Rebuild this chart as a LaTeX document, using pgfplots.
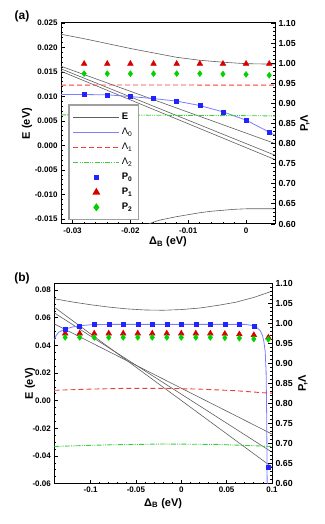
\documentclass[border=0pt]{standalone}
\usepackage{fontspec}
\setmainfont{Liberation Sans}
\usepackage{pgfplots}
\pgfplotsset{compat=1.18}
\definecolor{Egray}{RGB}{95,95,95}
\definecolor{Lblue}{RGB}{125,125,255}
\definecolor{Lred}{RGB}{240,60,60}
\definecolor{Lgreen}{RGB}{60,205,60}
\definecolor{Pblue}{RGB}{35,35,255}
\definecolor{Pred}{RGB}{215,0,0}
\definecolor{Pgreen}{RGB}{0,210,0}
\pgfplotsset{
  /pgf/number format/assume math mode=true,
  every axis/.append style={
    scale only axis, scaled ticks=false,
    tick align=inside, major tick length=4pt, minor tick length=2pt,
    tick style={black, line width=0.8pt},
    axis line style={black, line width=1pt},
    tick label style={font=\bfseries\fontsize{8}{9}\selectfont},
    label style={font=\bfseries\fontsize{11}{12}\selectfont},
  },
  Eline/.style={draw=Egray, line width=0.6pt},
  L0/.style={draw=Lblue, line width=0.8pt},
  L1/.style={draw=Lred, line width=0.9pt, dash pattern=on 5pt off 3pt},
  L2/.style={draw=Lgreen, line width=0.9pt, dash pattern=on 5pt off 1.2pt on 1pt off 1.2pt on 1pt off 1.2pt},
  P0/.style={only marks, mark=square*, mark size=2pt, mark options={draw=Pblue, fill=Pblue, solid}},
  P1/.style={only marks, mark=triangle*, mark size=3.3pt, mark options={draw=Pred, fill=Pred, solid}},
  P2/.style={only marks, mark=diamond*, mark size=3pt, mark options={draw=Pgreen, fill=Pgreen, solid}},
  legend image code/.code={\draw[mark repeat=2,mark phase=2,#1] plot coordinates {(0pt,0pt) (23pt,0pt) (46pt,0pt)};},
}
\begin{document}
\begin{tikzpicture}
\path[use as bounding box] (0,0) rectangle (324pt,524pt);
\node[font=\bfseries\fontsize{12}{14}\selectfont] at (22pt,508pt) {(a)};
\node[font=\bfseries\fontsize{12}{14}\selectfont] at (22pt,246pt) {(b)};

% ---------------- panel (a) left axis ----------------
\begin{axis}[at={(61pt,300pt)}, anchor=south west, width=214pt, height=201pt,
  xmin=-0.032, xmax=0.005, ymin=-0.016, ymax=0.025,
  xtick={-0.03,-0.02,-0.01,0}, ytick={-0.015,-0.010,-0.005,0,0.005,0.010,0.015,0.020,0.025},
  minor x tick num=4, minor y tick num=4, xtick pos=bottom, ytick pos=left,
  xticklabel style={/pgf/number format/.cd, fixed, precision=2},
  yticklabel style={/pgf/number format/.cd, fixed, fixed zerofill, precision=3},
  xlabel={Δ\textsubscript{B} (eV)}, ylabel={E (eV)},
  xlabel style={at={(axis description cs:0.5,-0.088)}, anchor=center},
  ylabel style={at={(axis description cs:-0.159,0.5)}, anchor=center},
]
\addplot[Eline] coordinates {(-0.032,0.0227) (-0.028,0.0218) (-0.024,0.0208) (-0.020,0.0198) (-0.016,0.0189) (-0.012,0.0180) (-0.008,0.0174) (-0.004,0.0170) (0,0.0167) (0.005,0.0166)};
\addplot[Eline] coordinates {(-0.032,0.01618) (0.005,0.00041)};
\addplot[Eline] coordinates {(-0.032,0.01565) (0.005,-0.00198)};
\addplot[Eline] coordinates {(-0.032,0.01516) (0.005,-0.00286)};
\addplot[Eline] coordinates {(-0.0172,-0.0162) (-0.0160,-0.0156) (-0.0149,-0.0152) (-0.012,-0.0145) (-0.010,-0.0141) (-0.008,-0.0137) (-0.006,-0.0134) (-0.004,-0.0132) (-0.002,-0.0130) (0,-0.0129) (0.005,-0.0129)};
\end{axis}

% ---------------- panel (a) right axis ----------------
\begin{axis}[at={(61pt,300pt)}, anchor=south west, width=214pt, height=201pt,
  xmin=-0.032, xmax=0.005, ymin=0.6, ymax=1.1,
  axis y line*=right, axis x line=none, tick align=inside,
  ytick={0.6,0.65,0.7,0.75,0.8,0.85,0.9,0.95,1.0,1.05,1.1}, minor y tick num=4,
  yticklabel style={font=\bfseries\fontsize{8.8}{10}\selectfont, /pgf/number format/.cd, fixed, fixed zerofill, precision=2},
  ylabel={P,Λ},
  every axis y label/.style={at={(axis description cs:1.140,0.5)}, anchor=center, rotate=90, font=\bfseries\fontsize{11}{12}\selectfont},
  legend style={at={(axis description cs:0.034,0.02)}, anchor=south west, draw=gray!75, line width=1.3pt, fill=white,
    font=\fontsize{9.5}{11}\selectfont, inner xsep=4pt, inner ysep=6pt, row sep=3pt,
    /tikz/every even column/.append style={column sep=5pt}},
  legend cell align=left,
]
\addlegendimage{Eline}
\addlegendentry{\textbf{E}}
\addplot[L0] coordinates {(-0.032,0.922) (-0.028,0.922) (-0.024,0.9214) (-0.020,0.917) (-0.016,0.912) (-0.012,0.9057) (-0.008,0.8947) (-0.004,0.879) (0,0.8584) (0.004,0.8285) (0.005,0.821)};
\addlegendentry{Λ\textsubscript{0}}
\addplot[L1] coordinates {(-0.032,0.9456) (-0.015,0.9457) (0.005,0.9455)};
\addlegendentry{Λ\textsubscript{1}}
\addplot[L2] coordinates {(-0.032,0.8716) (-0.015,0.8705) (0.005,0.869)};
\addlegendentry{Λ\textsubscript{2}}
\addplot[P0] coordinates {(-0.028,0.922) (-0.024,0.9214) (-0.020,0.917) (-0.016,0.912) (-0.012,0.9057) (-0.008,0.8947) (-0.004,0.879) (0,0.8584) (0.004,0.8285)};
\addlegendentry{\textbf{P}\textsubscript{\textbf{0}}}
\addplot[P1] coordinates {(-0.028,0.9987) (-0.024,0.9987) (-0.020,0.9987) (-0.016,0.9987) (-0.012,0.9987) (-0.008,0.9987) (-0.004,0.9987) (0,0.9987) (0.004,0.9985)};
\addlegendentry{\textbf{P}\textsubscript{\textbf{1}}}
\addplot[P2] coordinates {(-0.028,0.974) (-0.024,0.974) (-0.020,0.974) (-0.016,0.974) (-0.012,0.974) (-0.008,0.974) (-0.004,0.973) (0,0.972) (0.004,0.970)};
\addlegendentry{\textbf{P}\textsubscript{\textbf{2}}}
\end{axis}

% ---------------- panel (b) left axis ----------------
\begin{axis}[at={(54.3pt,40.3pt)}, anchor=south west, width=217.7pt, height=200.4pt,
  xmin=-0.14, xmax=0.1, ymin=-0.06, ymax=0.085,
  xtick={-0.1,-0.05,0,0.05,0.1}, ytick={-0.06,-0.04,-0.02,0,0.02,0.04,0.06,0.08},
  minor x tick num=4, minor y tick num=3, xtick pos=bottom, ytick pos=left,
  xticklabel style={/pgf/number format/.cd, fixed, precision=2},
  yticklabel style={/pgf/number format/.cd, fixed, fixed zerofill, precision=2},
  xlabel={Δ\textsubscript{B} (eV)}, ylabel={E (eV)},
  xlabel style={at={(axis description cs:0.5,-0.098)}, anchor=center},
  ylabel style={at={(axis description cs:-0.112,0.5)}, anchor=center},
]
\addplot[Eline] coordinates {(-0.14,0.0738) (-0.12,0.0715) (-0.10,0.0695) (-0.08,0.0678) (-0.06,0.0665) (-0.04,0.0657) (-0.02,0.0655) (0,0.0660) (0.02,0.0671) (0.04,0.0690) (0.06,0.0713) (0.08,0.0748) (0.10,0.0793)};
\addplot[Eline] coordinates {(-0.14,0.0677) (0.1,-0.0480)};
\addplot[Eline] coordinates {(-0.14,0.0636) (0.1,-0.0372)};
\addplot[Eline] coordinates {(-0.14,0.0556) (0.1,-0.0241)};
\end{axis}

% ---------------- panel (b) right axis ----------------
\begin{axis}[at={(54.3pt,40.3pt)}, anchor=south west, width=217.7pt, height=200.4pt,
  xmin=-0.14, xmax=0.1, ymin=0.6, ymax=1.1,
  axis y line*=right, axis x line=none, tick align=inside,
  ytick={0.6,0.65,0.7,0.75,0.8,0.85,0.9,0.95,1.0,1.05,1.1}, minor y tick num=4,
  yticklabel style={font=\bfseries\fontsize{8.8}{10}\selectfont, /pgf/number format/.cd, fixed, fixed zerofill, precision=2},
  ylabel={P,Λ},
  every axis y label/.style={at={(axis description cs:1.142,0.5)}, anchor=center, rotate=90, font=\bfseries\fontsize{11}{12}\selectfont},
]
\addplot[L0] coordinates {(-0.14,0.958) (-0.138,0.970) (-0.135,0.978) (-0.13,0.984) (-0.1275,0.986) (-0.12,0.991) (-0.112,0.994) (-0.10,0.9965) (-0.08,0.9975) (0.07,0.9975) (0.078,0.995) (0.083,0.990) (0.087,0.982) (0.0895,0.970) (0.091,0.955) (0.0925,0.930) (0.0935,0.880) (0.0942,0.760) (0.0948,0.55)};
\addplot[L1] coordinates {(-0.14,0.833) (-0.10,0.836) (-0.06,0.838) (-0.02,0.838) (0.02,0.836) (0.06,0.832) (0.09,0.827) (0.1,0.826)};
\addplot[L2] coordinates {(-0.14,0.693) (-0.08,0.697) (-0.02,0.699) (0.04,0.698) (0.1,0.693)};
\addplot[P1] coordinates {(-0.128,0.975) (-0.112,0.975) (-0.096,0.975) (-0.080,0.975) (-0.064,0.975) (-0.048,0.975) (-0.032,0.975) (-0.016,0.975) (0,0.975) (0.016,0.975) (0.032,0.975) (0.048,0.974) (0.064,0.973) (0.080,0.971) (0.096,0.965)};
\addplot[P2] coordinates {(-0.128,0.965) (-0.112,0.965) (-0.096,0.965) (-0.080,0.965) (-0.064,0.965) (-0.048,0.965) (-0.032,0.965) (-0.016,0.965) (0,0.965) (0.016,0.965) (0.032,0.965) (0.048,0.964) (0.064,0.963) (0.080,0.961) (0.096,0.960)};
\addplot[P0] coordinates {(-0.128,0.986) (-0.112,0.994) (-0.096,0.9977) (-0.080,0.9977) (-0.064,0.9977) (-0.048,0.9977) (-0.032,0.9977) (-0.016,0.9977) (0,0.9977) (0.016,0.9977) (0.032,0.9977) (0.048,0.9977) (0.064,0.9977) (0.080,0.9927) (0.096,0.641)};
\end{axis}
\end{tikzpicture}
\end{document}
